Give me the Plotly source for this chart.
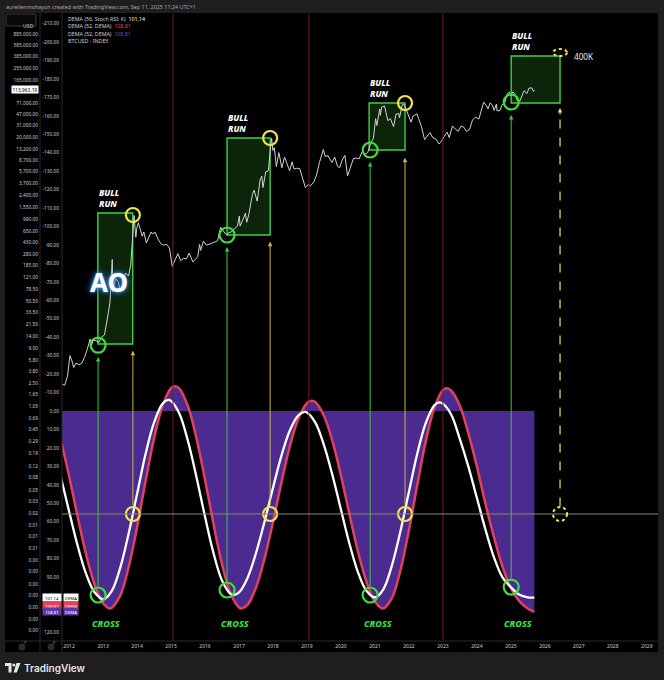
import math
import plotly.graph_objects as go

# ---- BTC price (log axis) ----
price_dates = ["2011-10-18", "2011-11-15", "2011-12-15", "2012-01-10", "2012-02-01", "2012-02-20", "2012-03-15",
               "2012-04-15", "2012-05-15", "2012-06-15", "2012-07-15", "2012-08-15", "2012-08-20", "2012-09-15",
               "2012-10-15", "2012-11-15", "2012-12-15", "2013-01-15", "2013-02-15", "2013-03-15", "2013-04-09",
               "2013-04-16", "2013-05-15", "2013-06-15", "2013-07-05", "2013-08-01", "2013-09-01", "2013-10-01",
               "2013-10-25", "2013-11-18", "2013-11-30", "2013-12-18", "2013-12-31", "2014-01-15", "2014-02-25",
               "2014-03-15", "2014-04-11", "2014-05-31", "2014-06-15", "2014-07-15", "2014-08-18", "2014-09-22",
               "2014-10-15", "2014-11-15", "2014-12-15", "2015-01-14", "2015-02-15", "2015-03-15", "2015-04-15",
               "2015-05-15", "2015-06-15", "2015-07-15", "2015-08-24", "2015-09-15", "2015-10-15", "2015-11-04",
               "2015-11-15", "2015-12-15", "2016-01-15", "2016-02-15", "2016-03-15", "2016-04-15", "2016-05-15",
               "2016-06-17", "2016-07-15", "2016-08-15", "2016-09-15", "2016-10-15", "2016-11-15", "2016-12-15",
               "2017-01-04", "2017-01-12", "2017-02-15", "2017-03-10", "2017-03-25", "2017-04-15", "2017-05-25",
               "2017-06-12", "2017-07-15", "2017-08-15", "2017-09-02", "2017-09-15", "2017-10-15", "2017-11-12",
               "2017-11-29", "2017-12-17", "2017-12-30", "2018-01-15", "2018-02-06", "2018-03-05", "2018-04-06",
               "2018-05-05", "2018-06-29", "2018-07-25", "2018-08-15", "2018-09-15", "2018-10-15", "2018-11-25",
               "2018-12-15", "2019-01-15", "2019-02-07", "2019-03-15", "2019-04-15", "2019-05-15", "2019-06-26",
               "2019-07-15", "2019-08-15", "2019-09-26", "2019-10-26", "2019-11-25", "2019-12-17", "2020-01-15",
               "2020-02-13", "2020-03-12", "2020-04-15", "2020-05-15", "2020-06-15", "2020-07-15", "2020-08-15",
               "2020-09-15", "2020-10-15", "2020-11-15", "2020-12-15", "2021-01-08", "2021-01-22", "2021-02-21",
               "2021-02-28", "2021-03-13", "2021-04-14", "2021-05-19", "2021-06-15", "2021-07-20", "2021-08-15",
               "2021-09-15", "2021-09-21", "2021-10-20", "2021-11-10", "2021-12-15", "2022-01-24", "2022-02-15",
               "2022-03-28", "2022-04-15", "2022-05-15", "2022-06-18", "2022-07-15", "2022-08-15", "2022-09-15",
               "2022-10-15", "2022-11-21", "2022-12-15", "2023-01-15", "2023-02-15", "2023-03-10", "2023-04-14",
               "2023-05-15", "2023-06-15", "2023-07-15", "2023-08-15", "2023-09-11", "2023-10-15", "2023-11-15",
               "2023-12-15", "2024-01-23", "2024-02-15", "2024-03-14", "2024-04-15", "2024-05-01", "2024-05-21",
               "2024-06-15", "2024-07-05", "2024-07-29", "2024-08-05", "2024-09-06", "2024-09-27", "2024-10-29",
               "2024-11-22", "2024-12-17", "2024-12-30", "2025-01-21", "2025-02-15", "2025-03-10", "2025-04-08",
               "2025-05-22", "2025-06-22", "2025-07-14", "2025-08-14", "2025-09-01", "2025-09-10"]
price_values = [2.4, 2.3, 3.2, 6.8, 5.6, 4.4, 5.2,
                4.9, 5.1, 6.4, 8.6, 12.5, 8.9, 11.8,
                11.8, 11.0, 13.4, 14.5, 26, 47, 230,
                70, 115, 100, 70, 105, 140, 125,
                190, 700, 1150, 520, 750, 880, 540,
                630, 420, 630, 590, 620, 470, 400,
                390, 400, 350, 178, 235, 285, 220,
                240, 235, 290, 210, 230, 255, 400,
                320, 450, 390, 400, 415, 430, 455,
                750, 665, 570, 610, 640, 710, 780,
                1130, 780, 1010, 1250, 900, 1180, 2500,
                2900, 1950, 4200, 4900, 3200, 5700, 5900,
                11000, 19400, 12500, 13800, 6900, 11500, 6600,
                9800, 5900, 8200, 6300, 6500, 6400, 3800,
                3200, 3600, 3400, 3900, 5100, 8000, 12900,
                10000, 10300, 8000, 9800, 7000, 6600, 8800,
                10400, 4900, 6700, 9300, 9400, 9200, 11800,
                10800, 11500, 16000, 19500, 40000, 31000, 57000,
                45000, 61000, 63500, 37000, 40000, 29800, 47000,
                48000, 41000, 66000, 68000, 48000, 35000, 44000,
                47500, 40000, 30000, 18500, 21000, 24000, 19800,
                19100, 15800, 17300, 20800, 24300, 20000, 30500,
                27200, 25100, 30300, 29100, 25000, 27000, 37800,
                42000, 39500, 51800, 73000, 63500, 57000, 71000,
                66000, 54000, 68000, 53000, 53800, 66000, 72500,
                99000, 106000, 92000, 106000, 97500, 78000, 76300,
                111000, 100000, 122000, 123000, 108000, 113963.19]
last_price = 113963.19

# ---- DEMA (56, Stoch RSI: K)  -> white ----
white_dates = ["2011-10-01", "2012-01-01", "2012-04-01", "2012-07-01", "2012-10-01", "2013-01-05", "2013-04-01",
               "2013-07-01", "2013-10-01", "2014-01-01", "2014-04-01", "2014-07-01", "2014-10-01", "2014-12-01",
               "2015-01-01", "2015-04-01", "2015-07-01", "2015-10-01", "2016-01-01", "2016-04-01", "2016-07-01",
               "2016-10-01", "2016-11-03", "2017-01-01", "2017-04-01", "2017-07-01", "2017-10-01", "2018-01-01",
               "2018-04-01", "2018-07-01", "2018-10-01", "2018-12-06", "2019-01-01", "2019-04-01", "2019-07-01",
               "2019-10-01", "2020-01-01", "2020-04-01", "2020-07-01", "2020-10-01", "2021-01-01", "2021-04-01",
               "2021-07-01", "2021-10-01", "2022-01-01", "2022-04-01", "2022-07-01", "2022-10-01", "2022-11-24",
               "2023-01-01", "2023-04-01", "2023-07-01", "2023-10-01", "2024-01-01", "2024-04-01", "2024-07-01",
               "2024-10-01", "2025-01-01", "2025-04-01", "2025-07-01", "2025-09-10"]
white_values = [35.1, 54.3, 72.8, 88.1, 98.2, 102.0, 97.8,
                85.4, 66.7, 44.9, 23.6, 6.4, -3.9, -6.0,
                -5.5, 1.5, 16.1, 35.7, 57.2, 76.9, 91.7,
                99.1, 99.7, 98.3, 90.6, 77.2, 60.1, 41.6,
                24.3, 10.5, 2.3, 0.5, 0.8, 6.3, 18.2,
                34.6, 53.4, 71.8, 87.2, 97.4, 101.0, 96.6,
                83.9, 65.3, 43.8, 23.0, 6.5, -3.1, -4.7,
                -4.0, 2.0, 15.0, 30.0, 47.0, 64.0, 79.0,
                90.0, 95.5, 99.5, 101.0, 101.14]

# ---- DEMA (52, DEMA) -> red line, purple fill ----
red_dates = ["2011-10-01", "2012-01-01", "2012-04-01", "2012-07-01", "2012-10-01", "2013-01-01", "2013-03-18",
             "2013-07-01", "2013-10-01", "2014-01-01", "2014-04-01", "2014-07-01", "2014-10-01", "2015-01-01",
             "2015-02-14", "2015-04-01", "2015-07-01", "2015-10-01", "2016-01-01", "2016-04-01", "2016-07-01",
             "2016-10-01", "2017-01-01", "2017-01-30", "2017-04-01", "2017-07-01", "2017-10-01", "2018-01-01",
             "2018-04-01", "2018-07-01", "2018-10-01", "2019-01-01", "2019-02-20", "2019-04-01", "2019-07-01",
             "2019-10-01", "2020-01-01", "2020-04-01", "2020-07-01", "2020-10-01", "2021-01-01", "2021-03-28",
             "2021-07-01", "2021-10-01", "2022-01-01", "2022-04-01", "2022-07-01", "2022-10-01", "2023-01-01",
             "2023-02-10", "2023-04-01", "2023-07-01", "2023-10-01", "2024-01-01", "2024-04-01", "2024-07-01",
             "2024-10-01", "2025-01-01", "2025-04-01", "2025-07-01", "2025-09-10"]
red_values = [15.0, 35.2, 57.0, 77.5, 94.0, 104.2, 107.0,
              100.3, 84.8, 62.9, 38.4, 15.2, -2.7, -12.4,
              -13.5, -12.2, -2.7, 14.7, 37.1, 61.1, 82.8,
              98.8, 106.5, 107.0, 105.1, 95.8, 80.1, 60.1,
              38.8, 19.1, 4.1, -4.3, -5.6, -4.9, 2.4,
              16.2, 34.9, 55.7, 75.9, 92.5, 103.4, 107.0,
              101.4, 86.4, 64.6, 39.9, 16.3, -1.7, -11.3,
              -12.3, -11.0, -3.0, 12.0, 30.0, 50.0, 68.0,
              84.0, 96.0, 103.0, 107.0, 108.81]

# ---- annotations of the cycle ----
run_start = ["2012-11-05", "2016-08-25", "2020-10-30", "2025-01-04"]
run_end = ["2013-11-15", "2017-12-01", "2021-11-20", "2026-06-13"]
run_low = [10.4, 563, 12650, 70800]
run_high = [1262, 19650, 70800, 395000]

entry_dates = ["2012-11-08", "2016-08-25", "2020-11-10", "2025-01-04"]
entry_price = [10.0, 563, 12650, 73400]
cross_values = [99.7, 97.0, 99.7, 95.4]
top_dates = ["2013-11-17", "2017-12-01", "2021-11-20"]
top_price = [1172, 19650, 70800]
exit_level = 55.8
target_date = "2026-06-13"
target_price = 395000
target_label = "400K"
cycle_tops = ["2015-01-22", "2019-01-22", "2023-01-01"]
cross_label_dates = ["2013-02-01", "2016-11-20", "2021-02-01", "2025-03-18"]

# ---- axis ticks ----
year_labels = [str(y) for y in range(2012, 2030)]
year_ticks = [y + "-01-01" for y in year_labels]
price_ticks = [885000, 585000, 385000, 255000, 165000, 71000, 47000, 31000, 20000, 13200, 8700, 5700, 3700,
               2400, 1550, 990, 650, 430, 280, 185, 121, 78.5, 50.5, 33.5, 21.5, 14, 9, 5.8, 3.8, 2.5, 1.65,
               1.05, 0.69, 0.45, 0.29, 0.19, 0.12, 0.08, 0.05, 0.0325, 0.0212, 0.0138, 0.009, 0.0058, 0.0038,
               0.0025, 0.0016, 0.00105, 0.00068, 0.00044, 0.00029]
price_labels = ["885,000.00", "585,000.00", "385,000.00", "255,000.00", "165,000.00", "71,000.00", "47,000.00",
                "31,000.00", "20,000.00", "13,200.00", "8,700.00", "5,700.00", "3,700.00", "2,400.00",
                "1,550.00", "990.00", "650.00", "430.00", "280.00", "185.00", "121.00", "78.50", "50.50",
                "33.50", "21.50", "14.00", "9.00", "5.80", "3.80", "2.50", "1.65", "1.05", "0.69", "0.45",
                "0.29", "0.19", "0.12", "0.08", "0.05", "0.03", "0.02", "0.01", "0.01", "0.01", "0.00",
                "0.00", "0.00", "0.00", "0.00", "0.00", "0.00"]
# 100 and 110 sit behind the last-value labels in the reference
osc_ticks = [-210, -200, -190, -180, -170, -160, -150, -140, -130, -120, -110, -100, -90, -80, -70, -60,
             -50, -40, -30, -20, -10, 0, 10, 20, 30, 40, 50, 60, 70, 80, 90, 120]
osc_labels = ["%.2f" % v for v in osc_ticks]

# ---- styling ----
RED = "#e3405c"
PURPLE = "#4b2b90"
GREEN = "#3ee03e"
YELLOW = "#f2e54a"
AXIS_TXT = "#c9ccd3"
FONT = "Noto Sans"

PW = 658.0   # plotting width (margin l=0, r=6)
PH = 626.0   # plotting height (margin t=14, b=40)


def px(x):
    return x / PW


def py(y):
    return (640 - y) / PH


fig = go.Figure()

fig.add_trace(go.Scatter(x=price_dates, y=price_values, mode="lines", yaxis="y",
                         line=dict(color="#d2d2d2", width=1), hoverinfo="skip"))
fig.add_trace(go.Scatter(x=[red_dates[0], red_dates[-1]], y=[0, 0], mode="lines", yaxis="y2",
                         line=dict(width=0, color=PURPLE), hoverinfo="skip"))
fig.add_trace(go.Scatter(x=red_dates, y=red_values, mode="lines", yaxis="y2", fill="tonexty",
                         fillcolor=PURPLE, line=dict(color=RED, width=2.5, shape="spline"), hoverinfo="skip"))
fig.add_trace(go.Scatter(x=white_dates, y=white_values, mode="lines", yaxis="y2",
                         line=dict(color="#ffffff", width=2.3, shape="spline"), hoverinfo="skip"))

# circles
fig.add_trace(go.Scatter(x=entry_dates, y=entry_price, mode="markers", yaxis="y", hoverinfo="skip",
                         marker=dict(symbol="circle-open", size=15, color=GREEN, line=dict(color=GREEN, width=2.2))))
fig.add_trace(go.Scatter(x=top_dates, y=top_price, mode="markers", yaxis="y", hoverinfo="skip",
                         marker=dict(symbol="circle-open", size=14, color=YELLOW, line=dict(color=YELLOW, width=2.2))))
fig.add_trace(go.Scatter(x=entry_dates, y=cross_values, mode="markers", yaxis="y2", hoverinfo="skip",
                         marker=dict(symbol="circle-open", size=15, color=GREEN, line=dict(color=GREEN, width=2.2))))
fig.add_trace(go.Scatter(x=top_dates, y=[exit_level] * len(top_dates), mode="markers", yaxis="y2",
                         hoverinfo="skip",
                         marker=dict(symbol="circle-open", size=14, color=YELLOW, line=dict(color=YELLOW, width=2.2))))

shapes = []
# chart panel and separators
shapes.append(dict(type="rect", xref="paper", yref="paper", x0=px(5), x1=px(658), y0=py(652), y1=py(13),
                   fillcolor="#000000", line=dict(width=0), layer="below"))
for sx in (40, 62):
    shapes.append(dict(type="line", xref="paper", yref="paper", x0=px(sx), x1=px(sx), y0=py(652), y1=py(13),
                       line=dict(color="#2a2a2a", width=1)))
shapes.append(dict(type="line", xref="paper", yref="paper", x0=px(5), x1=px(658), y0=py(641), y1=py(641),
                   line=dict(color="#2a2a2a", width=1)))
shapes.append(dict(type="rect", xref="paper", yref="paper", x0=px(6), x1=px(36), y0=py(26), y1=py(14),
                   line=dict(color="#3a3a3a", width=1), fillcolor="#0a0a0a"))
for cx in (22, 51):
    shapes.append(dict(type="circle", xref="paper", yref="paper", x0=px(cx - 3.5), x1=px(cx + 3.5),
                       y0=py(650.5), y1=py(643.5), fillcolor="#2b2b2b", line=dict(width=0)))
# tradingview logo glyph
shapes.append(dict(type="path", xref="paper", yref="paper",
                   path="M %f %f L %f %f L %f %f L %f %f L %f %f L %f %f Z" % (
                       px(5), py(663), px(11.5), py(663), px(11.5), py(672.5), px(8.5), py(672.5),
                       px(8.5), py(666), px(5), py(666)),
                   fillcolor="#e6e6e6", line=dict(width=0)))
shapes.append(dict(type="circle", xref="paper", yref="paper", x0=px(12.3), x1=px(15.3), y0=py(666.5),
                   y1=py(663.5), fillcolor="#e6e6e6", line=dict(width=0)))
shapes.append(dict(type="path", xref="paper", yref="paper",
                   path="M %f %f L %f %f L %f %f L %f %f Z" % (
                       px(16.5), py(663), px(20.5), py(663), px(16.8), py(672.5), px(13.6), py(672.5)),
                   fillcolor="#e6e6e6", line=dict(width=0)))

# bull run boxes
for s, e, lo, hi in zip(run_start, run_end, run_low, run_high):
    shapes.append(dict(type="rect", xref="x", yref="y", x0=s, x1=e, y0=lo, y1=hi, layer="below",
                       fillcolor="rgba(40,120,30,0.30)", line=dict(color="#3fd13f", width=1.4)))
# cycle top lines
for d in cycle_tops:
    shapes.append(dict(type="line", xref="x", yref="paper", x0=d, x1=d, y0=0, y1=1,
                       line=dict(color="#7a1c22", width=1)))
# exit level line
shapes.append(dict(type="line", xref="paper", yref="y2", x0=px(62), x1=1, y0=exit_level, y1=exit_level,
                   line=dict(color="#8c8866", width=1)))
# projected target
shapes.append(dict(type="line", xref="x", yref="y2", x0=target_date, x1=target_date, y0=exit_level - 4,
                   y1=-162, line=dict(color=YELLOW, width=1.2, dash="dash")))
shapes.append(dict(type="circle", xref="x", yref="y2", xsizemode="pixel", ysizemode="pixel",
                   xanchor=target_date, yanchor=exit_level, x0=-7, x1=7, y0=-7, y1=7,
                   line=dict(color=YELLOW, width=2, dash="dot")))
shapes.append(dict(type="circle", xref="x", yref="y", xsizemode="pixel", ysizemode="pixel",
                   xanchor=target_date, yanchor=target_price, x0=-7, x1=7, y0=-7, y1=7,
                   line=dict(color=YELLOW, width=2, dash="dot")))

ann = []
ann.append(dict(xref="paper", yref="paper", x=px(4), y=py(7), xanchor="left", yanchor="middle", showarrow=False,
                text="aurelienmohayon created with TradingView.com, Sep 11, 2025 11:24 UTC+1",
                font=dict(family=FONT, size=5.4, color="#a8a8a8")))
ann.append(dict(xref="paper", yref="paper", x=px(21), y=py(20), showarrow=False, text="USD",
                font=dict(family=FONT, size=5.2, color=AXIS_TXT)))
legend_rows = [
    "DEMA (56, Stoch RSI: K)  <span style='color:#ffffff'>101.14</span>",
    "DEMA (52, DEMA)  <span style='color:%s'>108.81</span>" % RED,
    "DEMA (52, DEMA)  <span style='color:#6a4cc0'>108.81</span>",
    "BTCUSD - INDEX",
]
for i, row in enumerate(legend_rows):
    ann.append(dict(xref="paper", yref="paper", x=px(66), y=py(19 + 7.4 * i), xanchor="left", yanchor="middle",
                    showarrow=False, text=row, font=dict(family=FONT, size=5.3, color="#d0d0d0")))
ann.append(dict(xref="paper", yref="y", x=px(38.5), y=math.log10(last_price), xanchor="right",
                yanchor="middle", showarrow=False, text="113,963.19", bgcolor="#ffffff", borderpad=0.6,
                font=dict(family=FONT, size=4.8, color="#000000")))
for txt, cy, bg, fg in (("101.14", 597.6, "#ffffff", "#000000"), ("108.81", 605.2, RED, "#ffffff"),
                        ("108.81", 611.4, "#5b3aa6", "#ffffff")):
    ann.append(dict(xref="paper", yref="paper", x=px(61.5), y=py(cy), xanchor="right", yanchor="middle",
                    showarrow=False, text=txt, bgcolor=bg, borderpad=0.5, width=17,
                    font=dict(family=FONT, size=4.3, color=fg)))
    ann.append(dict(xref="paper", yref="paper", x=px(62.5), y=py(cy), xanchor="left", yanchor="middle",
                    showarrow=False, text="DEMA", bgcolor=bg, borderpad=0.5, width=13,
                    font=dict(family=FONT, size=4.3, color=fg)))
for cx, t in ((22, "Y"), (51, "Z")):
    ann.append(dict(xref="paper", yref="paper", x=px(cx), y=py(647), showarrow=False, text=t,
                    font=dict(family=FONT, size=4, color="#9a9a9a")))
ann.append(dict(xref="paper", yref="paper", x=px(22), y=py(668), xanchor="left", yanchor="middle",
                showarrow=False, text="TradingView",
                font=dict(family="Inter", size=10, color="#e6e6e6", weight=600)))

# arrows from the oscillator to the price
green_heads = [-29.3, -88.9, -135.0, -160.4]
yellow_heads = [-32.7, -91.8, -137.3]
for d, v, h in zip(entry_dates, cross_values, green_heads):
    ann.append(dict(xref="x", yref="y2", axref="x", ayref="y2", x=d, y=h, ax=d, ay=v - 4, text="",
                    showarrow=True, arrowhead=2, arrowsize=0.9, arrowwidth=1, arrowcolor="#3cc83c"))
for d, h in zip(top_dates, yellow_heads):
    ann.append(dict(xref="x", yref="y2", axref="x", ayref="y2", x=d, y=h, ax=d, ay=exit_level - 4, text="",
                    showarrow=True, arrowhead=2, arrowsize=0.9, arrowwidth=1, arrowcolor="#cdb44c"))
ann.append(dict(xref="x", yref="y2", x=target_date, y=-164.2, ax=0, ay=8, text="", showarrow=True,
                arrowhead=2, arrowsize=0.9, arrowwidth=1, arrowcolor=YELLOW))

for s, hi in zip(run_start, run_high):
    ann.append(dict(xref="x", yref="y", x=s, y=math.log10(hi), xanchor="left", yanchor="bottom", yshift=2,
                    xshift=-1, showarrow=False, text="BULL<br>RUN", align="left",
                    font=dict(family=FONT, size=8.5, color="#ffffff", weight=800, style="italic")))
for d in cross_label_dates:
    ann.append(dict(xref="x", yref="y2", x=d, y=115, showarrow=False, text="CROSS",
                    font=dict(family=FONT, size=9, color="#3ee03e", weight=800, style="italic")))
ann.append(dict(xref="x", yref="y", x=target_date, y=math.log10(target_price), xanchor="left", xshift=12,
                showarrow=False, text=target_label, font=dict(family=FONT, size=8.2, color="#e8e8e8")))
ann.append(dict(xref="paper", yref="paper", x=px(88), y=py(282), showarrow=False, text="<b>AO</b>",
                font=dict(family=FONT, size=26, color="#ffffff", weight=800,
                          shadow="0px 0px 3px #4da6ff, 0px 0px 7px #2f7fff")))

fig.update_layout(
    width=664, height=680,
    margin=dict(l=0, r=6, t=14, b=40),
    paper_bgcolor="#1e1e1e",
    plot_bgcolor="#000000",
    template="none",
    showlegend=False,
    hovermode=False,
    font=dict(family=FONT, color=AXIS_TXT),
    shapes=shapes,
    annotations=ann,
    xaxis=dict(type="date", domain=[px(62), 1], range=["2011-10-17", "2029-05-01"],
               tickvals=year_ticks, ticktext=year_labels, tickfont=dict(size=5, color=AXIS_TXT),
               showgrid=False, zeroline=False, showline=False, ticks="", ticklabelstandoff=2,
               automargin=False),
    yaxis=dict(type="log", range=[-3.689, 6.265], anchor="free", position=px(40), side="left",
               tickvals=price_ticks, ticktext=price_labels, tickfont=dict(size=4.8, color=AXIS_TXT),
               showgrid=False, zeroline=False, showline=False, ticks="", ticklabelstandoff=2,
               automargin=False),
    yaxis2=dict(overlaying="y", anchor="x", side="left", range=[124.1, -215.2],
                tickvals=osc_ticks, ticktext=osc_labels, tickfont=dict(size=4.8, color=AXIS_TXT),
                showgrid=False, zeroline=False, showline=False, ticks="", ticklabelstandoff=2,
                automargin=False),
)

# page body margin removed so the 664x680 figure fills the window exactly
fig.write_html("out.html", config={"displayModeBar": False},
               post_script="document.body.style.margin='0px';document.body.style.overflow='hidden';")
